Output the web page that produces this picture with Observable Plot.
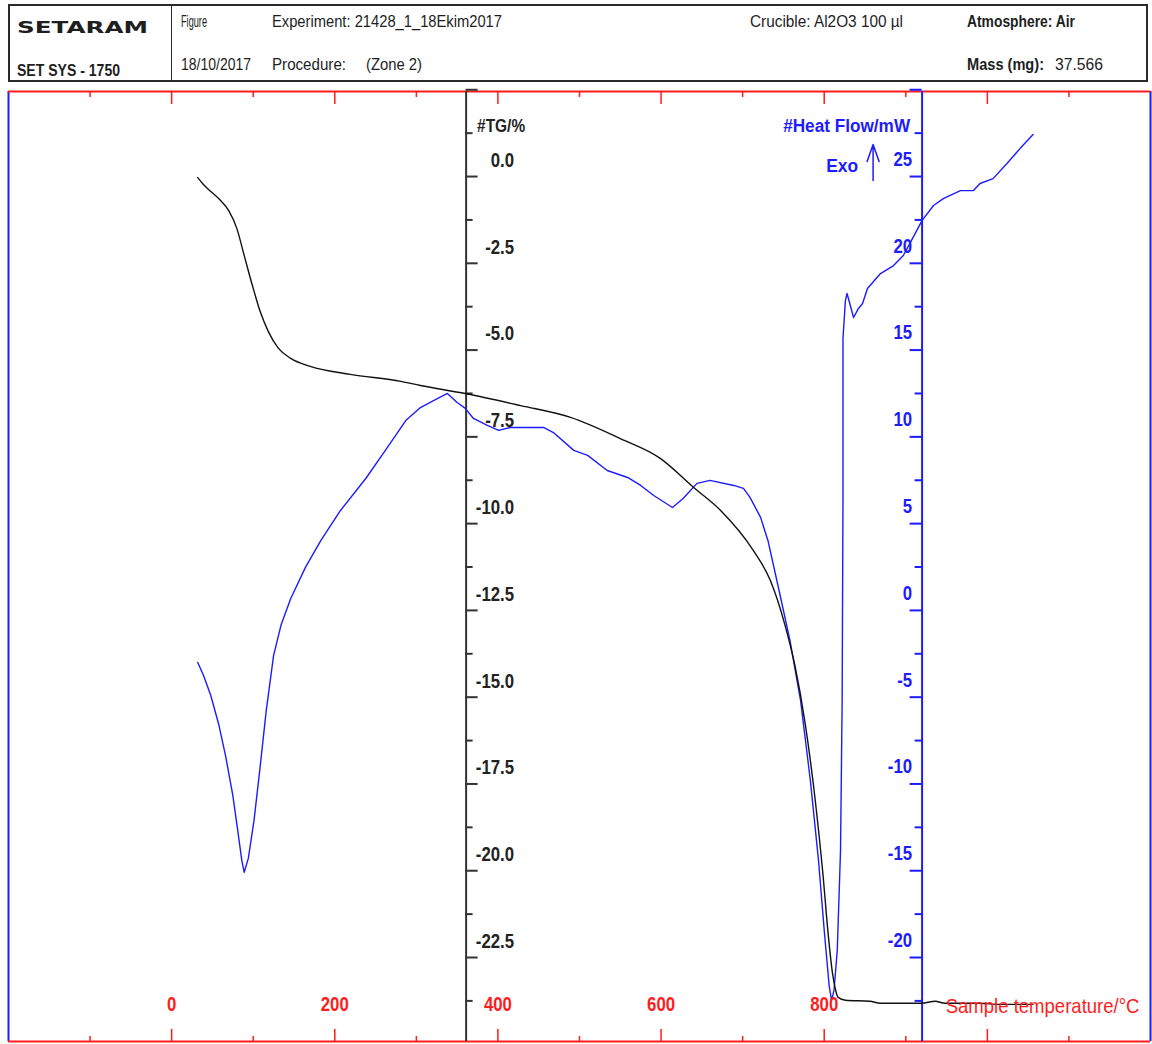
<!DOCTYPE html>
<html>
<head>
<meta charset="utf-8">
<script src="https://cdn.jsdelivr.net/npm/d3@7"></script>
<script src="https://cdn.jsdelivr.net/npm/@observablehq/plot@0.6"></script>
<style>
  body { margin: 0; background: #fff; }
  #page { position: relative; width: 1152px; height: 1044px; overflow: hidden; background: #fff; }
  #hdr { position: absolute; left: 0; top: 0; width: 1152px; height: 86px;
         font-family: "Liberation Sans", Arial, sans-serif; color: #1e1e1e; }
  #hdr .box { position: absolute; left: 8px; top: 4px; width: 1136px; height: 74px; border: 2px solid #2a2a2a; }
  #hdr .sep { position: absolute; left: 171px; top: 5px; width: 0; height: 76px; border-left: 1.5px solid #2a2a2a; }
  #hdr .t { position: absolute; white-space: nowrap; line-height: 1; transform-origin: 0 50%; }
  #chart { position: absolute; left: 0; top: 86px; }
</style>
</head>
<body>
<div id="page">
  <div id="hdr">
    <div class="box"></div>
    <div class="sep"></div>
  </div>
  <div id="chart"></div>
</div>
<script>
// ---------------- data ----------------
// TG curve (mass change, %) vs sample temperature (°C)
const tgTemp = [32, 39, 48, 60, 70, 80, 89, 99, 109, 119,
                131, 146, 170, 219, 281, 305, 360, 428, 489, 550,
                599, 640, 673, 713, 734, 752, 764, 777, 789, 798,
                805, 810, 814, 817, 826, 856, 869, 919, 936, 948,
                991, 1016, 1056];
const tgMass = [-0.03, -0.23, -0.43, -0.69, -0.98, -1.50, -2.28, -3.14, -3.92, -4.49,
                -4.95, -5.24, -5.47, -5.70, -5.90, -6.02, -6.25, -6.60, -6.94, -7.55,
                -8.12, -8.96, -9.62, -10.77, -11.64, -12.93, -14.08, -15.81, -17.97, -19.99,
                -21.86, -22.93, -23.44, -23.65, -23.73, -23.76, -23.82, -23.82, -23.76, -23.82,
                -23.82, -23.85, -23.85];

// Heat flow curve (mW) vs sample temperature (°C)
const hfTemp = [32, 39, 48, 58, 66, 75, 81, 86, 89, 94,
                101, 108, 116, 125, 134, 146, 164, 183, 207, 238,
                262, 287, 305, 317, 338, 350, 360, 370, 387, 401,
                415, 456, 468, 493, 510, 534, 559, 575, 591, 614,
                627, 644, 660, 689, 701, 709, 722, 731, 746, 758,
                771, 783, 793, 800, 806, 809, 812, 816, 820, 822,
                823, 823, 826, 828, 832, 836, 842, 847, 853, 869,
                885, 897, 909, 920, 934, 946, 967, 983, 991, 1007,
                1024, 1040, 1056];
const hfFlow = [-3.0, -3.74, -4.90, -6.62, -8.35, -10.66, -12.67, -14.40, -15.09, -14.29,
                -12.10, -9.22, -5.76, -2.59, -0.86, 0.69, 2.48, 4.03, 5.76, 7.60,
                9.22, 10.94, 11.69, 11.98, 12.50, 11.98, 11.64, 11.06, 10.66, 10.37,
                10.54, 10.54, 10.25, 9.22, 8.93, 8.06, 7.66, 7.20, 6.62, 5.93,
                6.45, 7.32, 7.49, 7.20, 7.03, 6.51, 5.36, 4.03, 0.86, -1.73,
                -5.18, -9.79, -14.40, -18.43, -21.60, -22.47, -21.89, -19.59, -13.82, -5.18,
                6.34, 15.67, 17.86, 18.26, 17.57, 16.88, 17.40, 17.68, 18.55, 19.41,
                19.87, 20.45, 21.49, 22.47, 23.33, 23.73, 24.19, 24.19, 24.60, 24.88,
                25.75, 26.61, 27.42];

// ticks
const xMajorTicks = [0, 200, 400, 600, 800, 1000];
const xMinorTicks = [-100, 100, 300, 500, 700, 900, 1100];
const xTickLabels = [0, 200, 400, 600, 800];
const tgMajorTicks = [2.5, 0, -2.5, -5, -7.5, -10, -12.5, -15, -17.5, -20, -22.5];
const tgMinorTicks = [1.25, -1.25, -3.75, -6.25, -8.75, -11.25, -13.75, -16.25, -18.75, -21.25, -23.75];
const tgTickLabels = [0, -2.5, -5, -7.5, -10, -12.5, -15, -17.5, -20, -22.5];
const hfMajorTicks = [30, 25, 20, 15, 10, 5, 0, -5, -10, -15, -20];
const hfMinorTicks = [27.5, 22.5, 17.5, 12.5, 7.5, 2.5, -2.5, -7.5, -12.5, -17.5, -22.5];
const hfTickLabels = [25, 20, 15, 10, 5, 0, -5, -10, -15, -20];

// header texts
const headerTexts = [
  {s: "SETARAM",            x: 17,  x2: 148,  y: 28, w: 900, f: '"DejaVu Sans", sans-serif', size: 15},
  {s: "SET SYS - 1750",     x: 17,  x2: 120,  y: 71, w: 700, size: 16},
  {s: "Figure",             x: 181, x2: 207,  y: 22, w: 400, size: 16},
  {s: "18/10/2017",         x: 181, x2: 251,  y: 65, w: 400, size: 16},
  {s: "Experiment: 21428_1_18Ekim2017", x: 272, x2: 502, y: 22, w: 400, size: 16},
  {s: "Procedure:",         x: 272, x2: 346,  y: 65, w: 400, size: 16},
  {s: "(Zone 2)",           x: 366, x2: 422,  y: 65, w: 400, size: 16},
  {s: "Crucible: Al2O3 100 µl", x: 750, x2: 903, y: 22, w: 400, size: 16},
  {s: "Atmosphere: Air",    x: 967, x2: 1075, y: 22, w: 700, size: 16},
  {s: "Mass (mg):",         x: 967, x2: 1044, y: 65, w: 700, size: 16},
  {s: "37.566",             x: 1055, x2: 1103, y: 65, w: 400, size: 16}
];

// ---------------- layout / styling ----------------
const RED = "#ff1c1c", BLUE = "#1c1cff", INK = "#222";
const FONT = '"Liberation Sans", Arial, sans-serif';
const W = 1152, H = 958, mT = 5, mB = 3, mL = 8, mR = 2;
const frameH = H - mT - mB;
const xDomain = [-200, 1200];
const tgDomain = [-24.92, 2.45];
const hfToTg = h => (h - 25) / 2;   // 25 mW aligned with 0.0 %, 5 mW per 2.5 %
const tgAxisAt = 361;  // temperature at which the TG axis is drawn
const hfAxisAt = 920;  // temperature at which the heat-flow axis is drawn

const tg = tgTemp.map((t, i) => ({t, v: tgMass[i]}));
const hf = hfTemp.map((t, i) => ({t, v: hfToTg(hfFlow[i])}));

const txt = {fontFamily: FONT, fontWeight: "bold", fontSize: 20};

const arrowShape = {
  draw(context, l) {
    context.moveTo(0, 0);
    context.lineTo(0, -l);
    context.moveTo(-6, 17 - l);
    context.lineTo(0, -l);
    context.lineTo(6, 17 - l);
  }
};

const chart = Plot.plot({
  width: W, height: H,
  marginTop: mT, marginBottom: mB, marginLeft: mL, marginRight: mR,
  x: {domain: xDomain, axis: null},
  y: {domain: tgDomain, axis: null},
  style: {background: "white", overflow: "visible"},
  marks: [
    // frame
    Plot.ruleX(xDomain, {stroke: BLUE, strokeWidth: 2}),
    Plot.ruleY(tgDomain, {stroke: RED, strokeWidth: 2}),
    // temperature ticks top & bottom (inward)
    Plot.ruleX(xMajorTicks, {stroke: RED, strokeWidth: 1.5, insetBottom: frameH - 13}),
    Plot.ruleX(xMinorTicks, {stroke: RED, strokeWidth: 1.5, insetBottom: frameH - 6}),
    Plot.ruleX(xMajorTicks, {stroke: RED, strokeWidth: 1.5, insetTop: frameH - 12}),
    Plot.ruleX(xMinorTicks, {stroke: RED, strokeWidth: 1.5, insetTop: frameH - 5}),
    // TG axis
    Plot.ruleX([tgAxisAt], {stroke: "#333", strokeWidth: 2}),
    Plot.ruleY(tgMajorTicks, {y: d => d, x1: () => tgAxisAt, x2: () => tgAxisAt, insetRight: -12, stroke: "#333", strokeWidth: 2}),
    Plot.ruleY(tgMinorTicks, {y: d => d, x1: () => tgAxisAt, x2: () => tgAxisAt, insetRight: -7, stroke: "#333", strokeWidth: 2}),
    // Heat flow axis
    Plot.ruleX([hfAxisAt], {stroke: BLUE, strokeWidth: 2}),
    Plot.ruleY(hfMajorTicks, {y: d => hfToTg(d), x1: () => hfAxisAt, x2: () => hfAxisAt, insetLeft: -12, stroke: BLUE, strokeWidth: 2}),
    Plot.ruleY(hfMinorTicks, {y: d => hfToTg(d), x1: () => hfAxisAt, x2: () => hfAxisAt, insetLeft: -7, stroke: BLUE, strokeWidth: 2}),
    // curves
    Plot.line(hf, {x: "t", y: "v", stroke: BLUE, strokeWidth: 1.4}),
    Plot.line(tg, {x: "t", y: "v", stroke: "#111", strokeWidth: 1.4, curve: "monotone-x"}),
    // tick labels
    Plot.text(tgTickLabels, {...txt, x: () => tgAxisAt, y: d => d, text: d => d.toFixed(1),
      textAnchor: "end", dx: 48, dy: -16, fill: INK}),
    Plot.text(hfTickLabels, {...txt, x: () => hfAxisAt, y: d => hfToTg(d), text: d => String(d),
      textAnchor: "end", dx: -10, dy: -17, fill: BLUE}),
    Plot.text(xTickLabels, {...txt, x: d => d, frameAnchor: "bottom", dy: -31, text: d => String(d), fill: RED}),
    // axis titles
    Plot.text(["#TG/%"], {...txt, fontSize: 19, x: () => tgAxisAt, frameAnchor: "top", textAnchor: "start", dx: 11, dy: 27, fill: INK}),
    Plot.text(["#Heat Flow/mW"], {...txt, fontSize: 19, x: () => hfAxisAt, frameAnchor: "top", textAnchor: "end", dx: -12, dy: 27, fill: BLUE}),
    Plot.text(["Exo"], {...txt, fontSize: 19, x: () => hfAxisAt, frameAnchor: "top", textAnchor: "end", dx: -64, dy: 67, fill: BLUE}),
    Plot.vector([0], {x: () => hfAxisAt, frameAnchor: "top", dx: -49, dy: 89, length: 36, rotate: 0,
      anchor: "start", shape: arrowShape, stroke: BLUE, strokeWidth: 1.5}),
    Plot.text(["Sample temperature/°C"], {fontFamily: FONT, fontSize: 20, frameAnchor: "bottom-right",
      textAnchor: "end", dx: -11, dy: -29, fill: RED})
  ]
});
document.getElementById("chart").appendChild(chart);

// condense the chart texts horizontally (narrow look of the original), keeping their anchors
const targetWidth = {"Sample temperature/°C": 194, "#Heat Flow/mW": 127, "#TG/%": 48, "Exo": 32};
chart.querySelectorAll("text").forEach(el => {
  const s = el.textContent;
  const len = el.getComputedTextLength();
  const k = targetWidth[s] ? targetWidth[s] / len : 0.84;
  const tr = el.getAttribute("transform");
  if (tr) {
    el.setAttribute("transform", tr + ` scale(${k},1)`);
  } else {
    const x = +el.getAttribute("x") || 0, y = +el.getAttribute("y") || 0;
    el.removeAttribute("x"); el.removeAttribute("y");
    el.setAttribute("transform", `translate(${x},${y}) scale(${k},1)`);
  }
});

// header
const hdr = document.getElementById("hdr");
for (const h of headerTexts) {
  const el = document.createElement("div");
  el.className = "t";
  el.textContent = h.s;
  el.style.fontWeight = h.w;
  el.style.fontSize = h.size + "px";
  if (h.f) el.style.fontFamily = h.f;
  hdr.appendChild(el);
  const r = el.getBoundingClientRect();
  el.style.left = h.x + "px";
  el.style.top = (h.y - r.height / 2) + "px";
  el.style.transform = `scaleX(${(h.x2 - h.x) / r.width})`;
}
</script>
</body>
</html>
